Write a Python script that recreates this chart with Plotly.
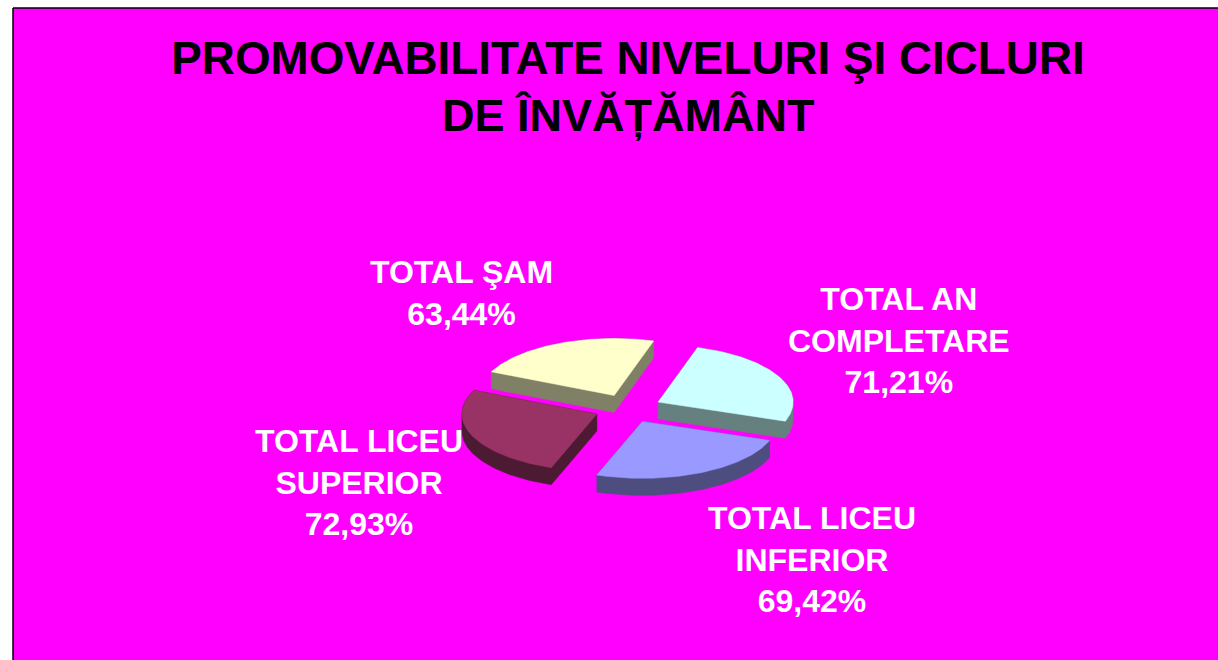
import math
import numpy as np
import plotly.graph_objects as go

# --- data ---
categories = ["TOTAL AN COMPLETARE", "TOTAL LICEU INFERIOR", "TOTAL LICEU SUPERIOR", "TOTAL ŞAM"]
label_lines = [["TOTAL AN", "COMPLETARE"], ["TOTAL LICEU", "INFERIOR"], ["TOTAL LICEU", "SUPERIOR"], ["TOTAL ŞAM"]]
values = [71.21, 69.42, 72.93, 63.44]
top_colors = ["#CCFFFF", "#9999FF", "#993366", "#FFFFCC"]
side_colors = ["#668080", "#4D4D80", "#4D1A33", "#808066"]
title_lines = ["PROMOVABILITATE NIVELURI ŞI CICLURI", "DE ÎNVĂȚĂMÂNT"]

# --- geometry of the tilted pie, in pixel-like axis units ---
W, H = 1218, 660
CX, CY, RX, RY = 628, 408.5, 135, 57
DEPTH, EXPLODE, ROTATION = 17, 0.25, 17
label_xy = [(898.5, 340.5), (811.5, 559.5), (358.5, 482.5), (461, 293)]
draw_order = [3, 0, 2, 1]

total = sum(values)
starts = [ROTATION + 360 * sum(values[:i]) / total for i in range(len(values))]
ends = [ROTATION + 360 * sum(values[:i + 1]) / total for i in range(len(values))]


def outline(i):
    mid = math.radians((starts[i] + ends[i]) / 2)
    tx = CX + EXPLODE * RX * math.sin(mid)
    ty = CY - EXPLODE * RY * math.cos(mid)
    th = np.radians(np.linspace(starts[i], ends[i], 90))
    xs = np.concatenate([[tx], tx + RX * np.sin(th), [tx]])
    ys = np.concatenate([[ty], ty - RY * np.cos(th), [ty]])
    return xs, ys


def hull(points):
    pts = sorted(set(points))

    def half(seq):
        out = []
        for p in seq:
            while len(out) >= 2 and (out[-1][0] - out[-2][0]) * (p[1] - out[-2][1]) - (out[-1][1] - out[-2][1]) * (p[0] - out[-2][0]) <= 0:
                out.pop()
            out.append(p)
        return out[:-1]

    ring = half(pts) + half(pts[::-1])
    return ring + ring[:1]


fig = go.Figure()
for i in draw_order:
    xs, ys = outline(i)
    pts = [(float(a), float(b)) for a, b in zip(xs, ys)] + [(float(a), float(b) + DEPTH) for a, b in zip(xs, ys)]
    ring = hull(pts)
    fig.add_trace(go.Scatter(x=[p[0] for p in ring], y=[p[1] for p in ring], mode="lines", fill="toself",
                             fillcolor=side_colors[i], line=dict(color=side_colors[i], width=0.5),
                             hoverinfo="skip", showlegend=False))
    fig.add_trace(go.Scatter(x=xs, y=ys, mode="lines", fill="toself", fillcolor=top_colors[i],
                             line=dict(color=top_colors[i], width=0.5), name=categories[i],
                             text=f"{values[i]:.2f}%", hoverinfo="name+text", showlegend=False))

annotations = []
for i, (lx, ly) in enumerate(label_xy):
    txt = "<b>" + "<br>".join(label_lines[i] + [f"{values[i]:.2f}%".replace(".", ",")]) + "</b>"
    annotations.append(dict(x=lx, y=ly, xref="x", yref="y", text=txt, showarrow=False,
                            xanchor="center", yanchor="middle", align="center",
                            font=dict(family="Liberation Sans", size=32, color="white")))
annotations.append(dict(x=628, y=115, xref="x", yref="y", text=f"<b>{title_lines[1]}</b>", showarrow=False,
                        xanchor="center", yanchor="middle", align="center",
                        font=dict(family="Liberation Sans", size=45, color="black")))

fig.update_layout(
    width=W, height=H, margin=dict(l=13, r=0, t=8, b=0),
    paper_bgcolor="white", plot_bgcolor="#FF00FF",
    title=dict(text=f"<b>{title_lines[0]}</b>", x=628 / W, xref="container", xanchor="center",
               y=1 - 58 / H, yref="container", yanchor="middle",
               font=dict(family="Liberation Sans", size=45.8, color="black")),
    xaxis=dict(range=[13, W], visible=False, fixedrange=True),
    yaxis=dict(range=[H, 8], visible=False, fixedrange=True),
    annotations=annotations,
    shapes=[
        dict(type="line", xref="paper", yref="paper", x0=0, x1=1, y0=1, y1=1, line=dict(color="black", width=1.5)),
        dict(type="line", xref="paper", yref="paper", x0=0, x1=0, y0=0, y1=1, line=dict(color="black", width=1.5)),
    ],
)
fig.write_html("out.html", config={"displayModeBar": False}, post_script="document.body.style.margin='0';")
